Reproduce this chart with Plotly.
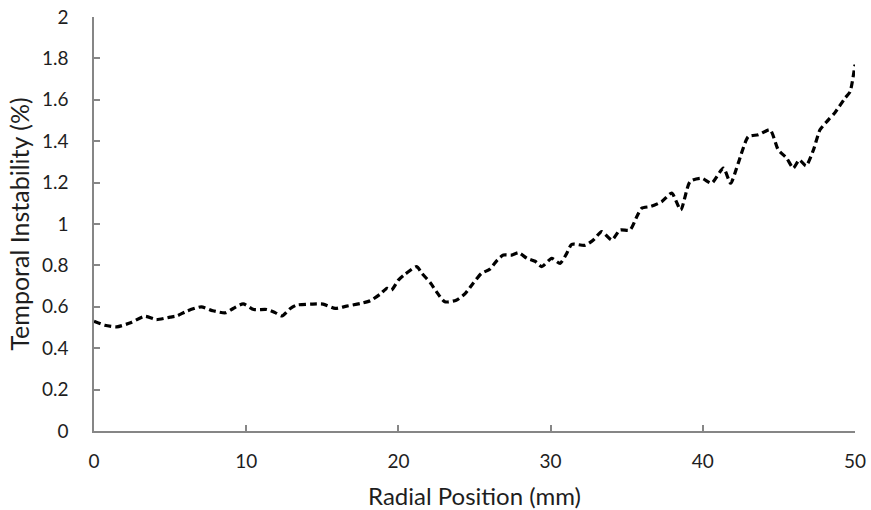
import plotly.graph_objects as go

# Radial position (mm) and temporal instability (%)
radial_mm = [0.0, 0.7, 1.5, 2.4, 3.35, 4.1, 5.0, 5.45, 6.1, 7.05, 7.8, 8.65, 9.15, 9.8,
             10.5, 11.35, 11.9, 12.35, 12.9, 13.3, 14.3, 15.05, 15.85, 16.6, 17.5, 18.15,
             18.8, 19.25, 19.55, 20.0, 20.45, 21.2, 21.55, 22.1, 22.5, 23.05, 23.8, 24.4,
             24.9, 25.45, 26.0, 26.5, 26.9, 27.45, 27.9, 28.45, 28.98, 29.42, 30.07, 30.62,
             31.06, 31.39, 32.26, 32.81, 33.36, 34.02, 34.56, 35.22, 35.66, 35.98, 36.6,
             37.3, 37.96, 38.55, 39.16, 39.92, 40.58, 41.35, 41.83, 42.33, 42.99, 43.65,
             44.42, 44.96, 45.51, 45.95, 46.34, 46.78, 47.27, 47.7, 48.25, 48.69, 49.34,
             49.67, 50.0]
instability_pct = [0.53, 0.511, 0.503, 0.523, 0.554, 0.538, 0.55, 0.556, 0.579, 0.600,
                   0.581, 0.571, 0.592, 0.614, 0.587, 0.587, 0.572, 0.556, 0.592, 0.608,
                   0.613, 0.613, 0.592, 0.603, 0.616, 0.629, 0.661, 0.689, 0.681, 0.729,
                   0.758, 0.794, 0.761, 0.716, 0.673, 0.624, 0.632, 0.665, 0.713, 0.761,
                   0.781, 0.826, 0.850, 0.850, 0.861, 0.834, 0.820, 0.794, 0.834, 0.810,
                   0.858, 0.902, 0.897, 0.923, 0.963, 0.923, 0.971, 0.971, 1.035, 1.076,
                   1.085, 1.108, 1.149, 1.068, 1.205, 1.221, 1.197, 1.270, 1.197, 1.294,
                   1.422, 1.431, 1.455, 1.358, 1.318, 1.270, 1.310, 1.281, 1.358, 1.455,
                   1.503, 1.539, 1.608, 1.638, 1.77]

x_ticks = [0, 10, 20, 30, 40, 50]
y_ticks = [0, 0.2, 0.4, 0.6, 0.8, 1.0, 1.2, 1.4, 1.6, 1.8, 2.0]
y_tick_text = ["0", "0.2", "0.4", "0.6", "0.8", "1", "1.2", "1.4", "1.6", "1.8", "2"]

fig = go.Figure(
    go.Scatter(
        x=radial_mm,
        y=instability_pct,
        mode="lines",
        line=dict(color="black", width=3.2, dash="7px,4px", shape="spline", smoothing=0.6),
        showlegend=False,
        hoverinfo="skip",
    )
)

font_family = "Lato, 'Open Sans', sans-serif"
axis_color = "#868686"
text_color = "#1e1e1e"

fig.update_layout(
    width=871,
    height=510,
    margin=dict(l=94, r=16, t=17, b=79),
    paper_bgcolor="white",
    plot_bgcolor="white",
    font=dict(family=font_family, size=19, color=text_color),
)

fig.update_xaxes(
    range=[0, 50],
    tickvals=x_ticks,
    ticktext=[str(v) for v in x_ticks],
    showgrid=False,
    zeroline=False,
    showline=True,
    linecolor=axis_color,
    linewidth=1.5,
    ticks="inside",
    ticklen=6,
    tickwidth=1.5,
    tickcolor=axis_color,
    ticklabelstandoff=12,
    automargin=False,
    tickfont=dict(size=19, color=text_color),
    title=dict(text="Radial Position (mm)", font=dict(size=24, color=text_color), standoff=22),
)

fig.update_yaxes(
    range=[0, 2],
    tickvals=y_ticks,
    ticktext=y_tick_text,
    showgrid=False,
    zeroline=False,
    showline=True,
    linecolor=axis_color,
    linewidth=1.5,
    ticks="inside",
    ticklen=6,
    tickwidth=1.5,
    tickcolor=axis_color,
    ticklabelstandoff=20,
    automargin=False,
    tickfont=dict(size=19, color=text_color),
    title=dict(text="Temporal Instability (%)", font=dict(size=25, color=text_color), standoff=5),
)

fig.write_html("out.html")
